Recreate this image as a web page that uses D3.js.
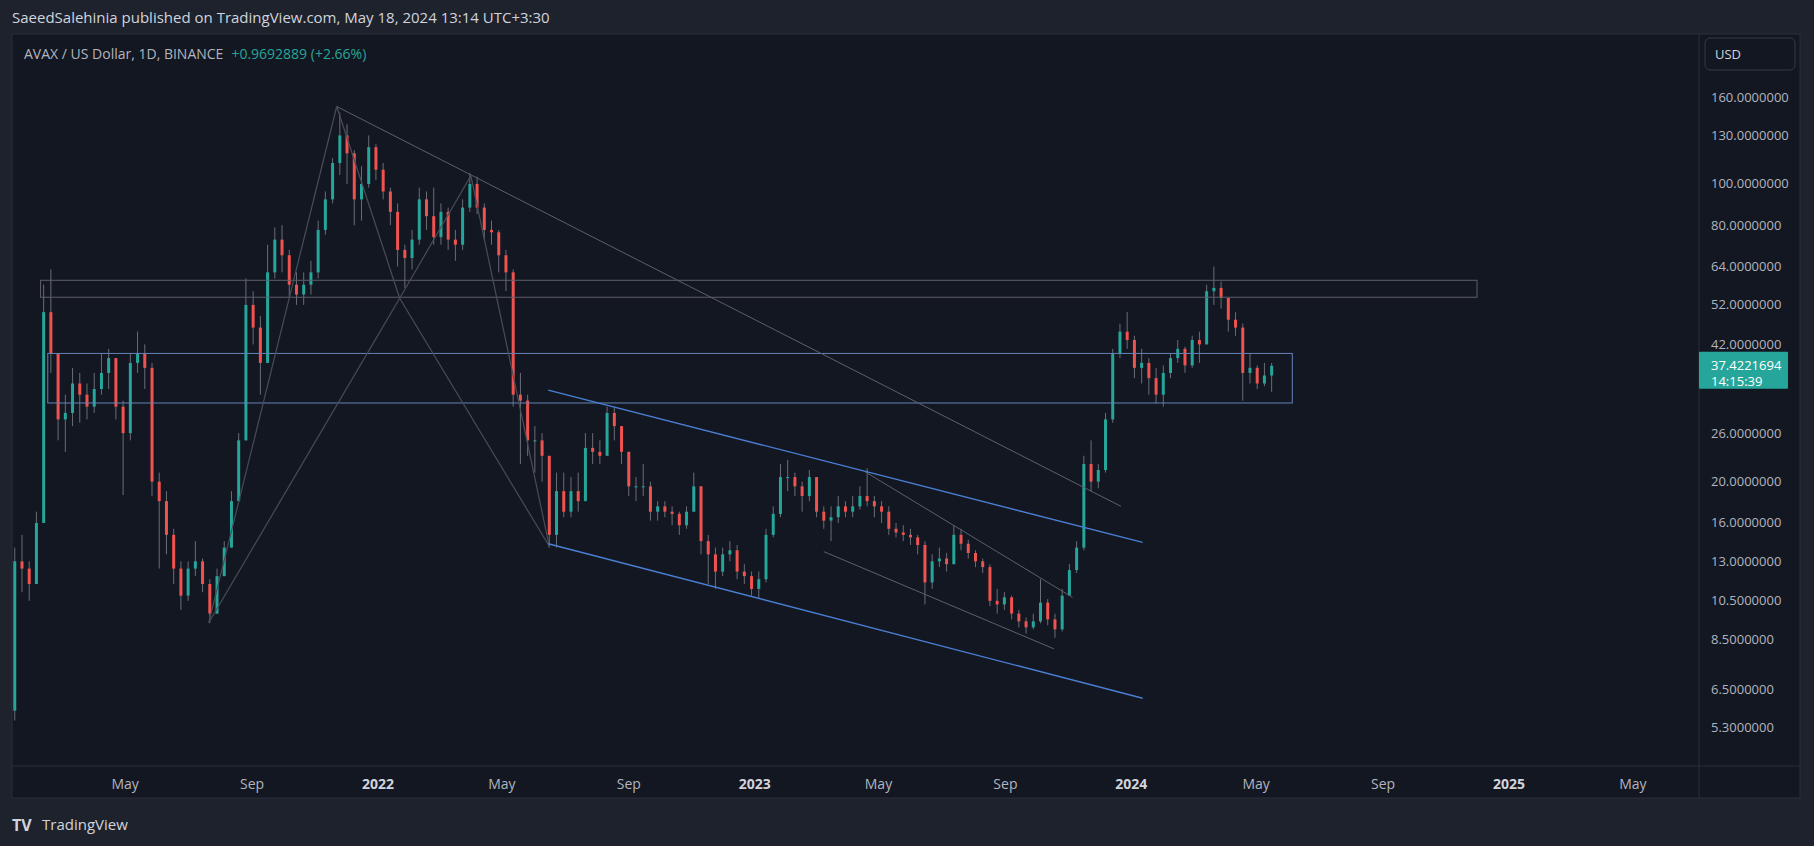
<!DOCTYPE html>
<html>
<head>
<meta charset="utf-8">
<script src="https://cdn.jsdelivr.net/npm/d3@7"></script>
<style>
  body { margin: 0; background: #1e222d; }
  svg { display: block; font-family: "Open Sans", Roboto, sans-serif; }
</style>
</head>
<body>
<svg id="chart" width="1814" height="846"></svg>
<script>
// weekly candles, starting week of 2021-01-11 (open = previous close)
const firstWeek = new Date(2021, 0, 11);
const firstOpen = 5.8;
const closes = [13,12.5,11.5,16,50,40,28,29,34,32,30,33,36,39,30,26,38,40,37,20,
  18,15,12.5,10.8,12.5,13,11.5,9.8,12,14,18,25,52,46,38,62,74,68,58,55,
  58,62,78,92,112,130,118,92,100,122,108,96,86,70,67,74,92,84,75,86,
  74,72,88,100,88,78,77,68,62,32,31,25,25,23,15,19,17,19,18,24,
  23.5,23,29,27,23.5,19.5,19.5,19.5,17,17.5,17,16.8,15.8,17,19.5,14.5,13.5,12.3,13.5,13.8,
  12.3,12,11.2,11.8,15,16.8,20.5,20.5,19.5,18.5,20.5,17,16.2,16.5,17.5,17,17.5,18.5,18,17.5,
  17,15.5,15.2,15,14.8,14.2,11.6,13,13.2,12.8,15,14.3,13.6,13,12.6,10.5,10.3,10.7,9.8,9.4,
  9.1,9.4,10.4,9.5,9,10.8,12.4,14,22,20,21.3,28,40,45,43,37,38,35,32,36,
  39,41,37.5,43,42,56,57,54,48,46,36,37,34,35.5,37.42];
const highs = [14,15,13,17,58,63,40,32,37,36,34,36,40,41,39,31,40,45,42,38,
  21,19,15.5,13,13,14.5,13.2,11.8,12.5,14.5,19,26,60,56,49,72,79,80,70,62,
  62,66,82,96,115,147,138,120,110,130,124,112,98,90,72,78,98,96,98,90,
  88,78,92,106,104,90,82,78,70,63,36,32,27,26,22,21,21,20.5,21,26,
  26,25,30,30,27,23.5,20.5,22,20,18,18,17.5,17,17.5,21,19.5,15,14,14,14.5,
  14.2,12.8,12.3,12.3,15.5,17.5,22,22.5,21,20,21.3,20.5,17.5,17.5,18.5,18,18.5,19.5,21.5,18.5,
  18,17.5,16,15.8,15.5,15,14.5,13.5,14,13.6,15.8,15.5,14.6,13.8,13.2,12.8,11.2,11,10.8,10,
  9.6,9.8,11.8,10.6,9.8,11.2,12.8,14.5,23,25,22,29,41,47,50,44,41,39,37,37.5,
  40,43,41.5,44,45,58,64,59,54,50,47,40,37.5,38,38];
const lows = [5.5,11,10.5,11.5,16,36,25,23.5,27,27.5,28,29,32,33,28,18.6,25,36,33,18.5,
  12.5,13.5,11.5,10,10.5,12,11,9.3,9.8,12,14,18,25,42,32,38,60,62,54,52,
  52,55,60,76,90,105,100,80,82,98,102,92,80,64,57,63,72,78,72,72,
  70,66,70,86,85,74,72,62,56,30,22,23,21,20,14,14,16.5,16.5,17,18,
  22,22,23,25,22,18.5,18,18.5,16.2,16.2,16.5,15.8,15,15.5,17,13.5,11.5,11.2,12,13,
  11.8,11.5,10.8,10.6,11.6,14.8,16.5,19,18.5,17,18,16.5,15.5,14.5,16,16.5,16.5,17.2,17.5,16.5,
  16,15,14.8,14.5,14.2,13.5,10.3,11.2,12.6,12.3,12.8,13.8,13.2,12.6,12.2,10.2,9.8,10,9.5,9.1,
  8.8,9,9.3,9.2,8.6,8.9,10.8,12.2,13.8,19,19.3,21,27.5,39,41,35,34,32,30.5,30,
  35,38,36,37,38,42,52,51,45,44,31,34,33,33.5,32.5];

// drawings: [date, price]
const harmonic = { X: ["2021-07-21", 9.33], A: ["2021-11-22", 152], B: ["2022-01-22", 53.9],
                   C: ["2022-04-01", 104.5], D: ["2022-06-16", 14.1] };
const harmonicLegs = [["X","A"],["A","B"],["B","C"],["C","D"],["X","B"],["B","D"]];
const greyLines = [
  [["2021-11-22", 152], ["2023-12-22", 17.5]],
  [["2023-04-18", 21.1], ["2023-11-05", 10.7]],
  [["2023-03-09", 13.7], ["2023-10-18", 8.1]]
];
const blueLines = [
  [["2022-06-15", 32.8], ["2024-01-12", 14.4]],
  [["2022-06-15", 14.3], ["2024-01-12", 6.2]]
];
const greyBox = [["2021-02-08", 59.4], ["2024-12-01", 54.2]];
const blueBox = [["2021-02-15", 40.0], ["2024-06-05", 30.6]];

const priceTicks = [160,130,100,80,64,52,42,26,20,16,13,10.5,8.5,6.5,5.3,4.2];
const timeTicks = [["2021-05-01","May"],["2021-09-01","Sep"],["2022-01-01","2022"],["2022-05-01","May"],
  ["2022-09-01","Sep"],["2023-01-01","2023"],["2023-05-01","May"],["2023-09-01","Sep"],
  ["2024-01-01","2024"],["2024-05-01","May"],["2024-09-01","Sep"],["2025-01-01","2025"],["2025-05-01","May"]];
const lastPrice = 37.4221694;

const svg = d3.select('#chart');
const plot = { left: 12, right: 1699, top: 34, bottom: 766 };
const parse = d3.timeParse('%Y-%m-%d');

const x = d3.scaleTime()
  .domain([new Date(2022, 0, 1), new Date(2025, 0, 1)])
  .range([378, 1509]);
const y = d3.scaleLog()
  .domain([160, 5.3])
  .range([97, 727.3]);

// frame
svg.append('rect').attr('x', 12).attr('y', 34).attr('width', 1788).attr('height', 764)
  .attr('fill', '#131722').attr('stroke', '#2a2e39');

const defs = svg.append('defs');
defs.append('clipPath').attr('id', 'clip')
  .append('rect').attr('x', plot.left + 1).attr('y', plot.top + 1)
  .attr('width', plot.right - plot.left - 1).attr('height', plot.bottom - plot.top - 1);
defs.append('clipPath').attr('id', 'clipAxis')
  .append('rect').attr('x', plot.right).attr('y', plot.top)
  .attr('width', 101).attr('height', plot.bottom - plot.top);

const g = svg.append('g').attr('clip-path', 'url(#clip)');

const candles = closes.map((c, i) => ({
  date: d3.timeDay.offset(firstWeek, i * 7 + 3),
  open: i === 0 ? firstOpen : closes[i - 1],
  close: c, high: highs[i], low: lows[i]
}));

const cg = g.selectAll('g.candle').data(candles).join('g').attr('class', 'candle');
cg.append('line')
  .attr('x1', d => x(d.date)).attr('x2', d => x(d.date))
  .attr('y1', d => y(d.high)).attr('y2', d => y(d.low))
  .attr('stroke', '#6a6d78').attr('stroke-width', 1);
cg.append('rect')
  .attr('x', d => x(d.date) - 1.5).attr('width', 3)
  .attr('y', d => y(Math.max(d.open, d.close)))
  .attr('height', d => Math.max(1, Math.abs(y(d.open) - y(d.close))))
  .attr('fill', d => d.close >= d.open ? '#26a69a' : '#ef5350');

const pt = p => [x(parse(p[0])), y(p[1])];
const drawLine = (a, b, color, w) => {
  const [x1, y1] = pt(a), [x2, y2] = pt(b);
  g.append('line').attr('x1', x1).attr('y1', y1).attr('x2', x2).attr('y2', y2)
    .attr('stroke', color).attr('stroke-width', w);
};
const drawBox = (b, color) => {
  const [x1, y1] = pt(b[0]), [x2, y2] = pt(b[1]);
  g.append('rect').attr('x', x1).attr('y', y1).attr('width', x2 - x1).attr('height', y2 - y1)
    .attr('fill', 'none').attr('stroke', color).attr('stroke-width', 1);
};

drawBox(greyBox, '#5d606b');
drawBox(blueBox, '#6583b8');
harmonicLegs.forEach(([a, b]) => drawLine(harmonic[a], harmonic[b], '#4a4d57', 1.2));
greyLines.forEach(l => drawLine(l[0], l[1], '#5d606b', 1));
blueLines.forEach(l => drawLine(l[0], l[1], '#4a7fd4', 1.4));

svg.append('line').attr('x1', 12).attr('x2', 1800).attr('y1', plot.bottom).attr('y2', plot.bottom).attr('stroke', '#2a2e39');
svg.append('line').attr('x1', plot.right).attr('x2', plot.right).attr('y1', 34).attr('y2', 798).attr('stroke', '#2a2e39');

// price axis
const fmt = d3.format('.7f');
svg.append('g').attr('clip-path', 'url(#clipAxis)')
  .selectAll('text.ptick').data(priceTicks).join('text').attr('class', 'ptick')
  .attr('x', 1711).attr('y', d => y(d)).attr('dy', '0.35em')
  .attr('fill', '#b2b5be').attr('font-size', 13).text(d => fmt(d));

const ly = y(lastPrice);
svg.append('rect').attr('x', plot.right).attr('y', ly - 14).attr('width', 89).attr('height', 37)
  .attr('fill', '#26a69a').attr('rx', 1);
svg.append('text').attr('x', 1711).attr('y', ly).attr('dy', '0.35em').attr('fill', '#ffffff')
  .attr('font-size', 13).text(fmt(lastPrice));
svg.append('text').attr('x', 1711).attr('y', ly + 16).attr('dy', '0.35em').attr('fill', '#ffffff')
  .attr('font-size', 13).text('14:15:39');

svg.append('rect').attr('x', 1705).attr('y', 38).attr('width', 90).attr('height', 32).attr('rx', 5)
  .attr('fill', '#131722').attr('stroke', '#363a45');
svg.append('text').attr('x', 1715).attr('y', 54).attr('dy', '0.35em').attr('fill', '#d1d4dc')
  .attr('font-size', 13).text('USD');

// time axis
svg.selectAll('text.ttick').data(timeTicks).join('text').attr('class', 'ttick')
  .attr('x', d => x(parse(d[0]))).attr('y', 784).attr('dy', '0.35em')
  .attr('text-anchor', 'middle').attr('font-size', 14)
  .attr('fill', d => /^\d/.test(d[1]) ? '#d1d4dc' : '#b2b5be')
  .attr('font-weight', d => /^\d/.test(d[1]) ? 'bold' : 'normal')
  .text(d => d[1]);

// header texts
svg.append('text').attr('x', 12).attr('y', 18).attr('dy', '0.35em').attr('fill', '#d1d4dc')
  .attr('font-size', 15).text('SaeedSalehinia published on TradingView.com, May 18, 2024 13:14 UTC+3:30');
const title = svg.append('text').attr('x', 24).attr('y', 54).attr('dy', '0.35em').attr('font-size', 14);
title.append('tspan').attr('fill', '#b2b5be').text('AVAX / US Dollar, 1D, BINANCE');
title.append('tspan').attr('fill', '#26a69a').attr('dx', 8).text('+0.9692889 (+2.66%)');

// footer logo
svg.append('text').attr('x', 12).attr('y', 825).attr('dy', '0.35em').attr('fill', '#d1d4dc')
  .attr('font-size', 16).attr('font-weight', 'bold').text('TV');
svg.append('text').attr('x', 42).attr('y', 825).attr('dy', '0.35em').attr('fill', '#d1d4dc')
  .attr('font-size', 15).text('TradingView');
</script>
</body>
</html>
